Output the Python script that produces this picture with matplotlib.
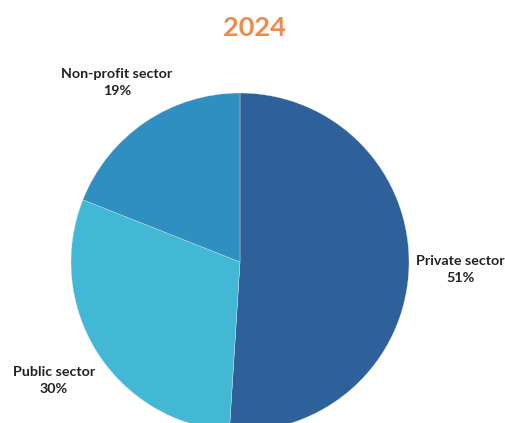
import matplotlib
matplotlib.use("Agg")
import matplotlib.pyplot as plt

title = "2024"
sectors = ["Private sector", "Public sector", "Non-profit sector"]
shares = [51, 30, 19]
colors = ["#2E6099", "#42B8D5", "#2E8FC0"]

W, H, DPI = 506, 423, 100
fig = plt.figure(figsize=(W / DPI, H / DPI), dpi=DPI)
ax = fig.add_axes([0, 0, 1, 1])

ax.pie(shares, colors=colors, startangle=90, counterclock=False, radius=1,
       wedgeprops=dict(edgecolor="#dfe9f2", linewidth=0.25))

# pie centre and radius in pixels
cx, cy, r = 240, 262, 169
ax.set_xlim(-cx / r, (W - cx) / r)
ax.set_ylim(-(H - cy) / r, cy / r)
ax.set_aspect("equal")
ax.axis("off")

font = "Lato"
txt = "#222222"

def px(x, y):
    return x / W, 1 - y / H

fig.text(*px(254, 28), title, ha="center", va="center", fontsize=19.5,
         fontweight="bold", color="#F08A4B", family=font)

label_pos = {
    "Private sector": (460, 269.5),
    "Public sector": (54, 380.5),
    "Non-profit sector": (117, 82.5),
}
for name, val in zip(sectors, shares):
    x, y = label_pos[name]
    fig.text(*px(x, y), f"{name}\n{val}%", ha="center", va="center",
             fontsize=10.3, fontweight="bold", color=txt, family=font,
             linespacing=1.55)

fig.savefig("out.png", dpi=DPI)
